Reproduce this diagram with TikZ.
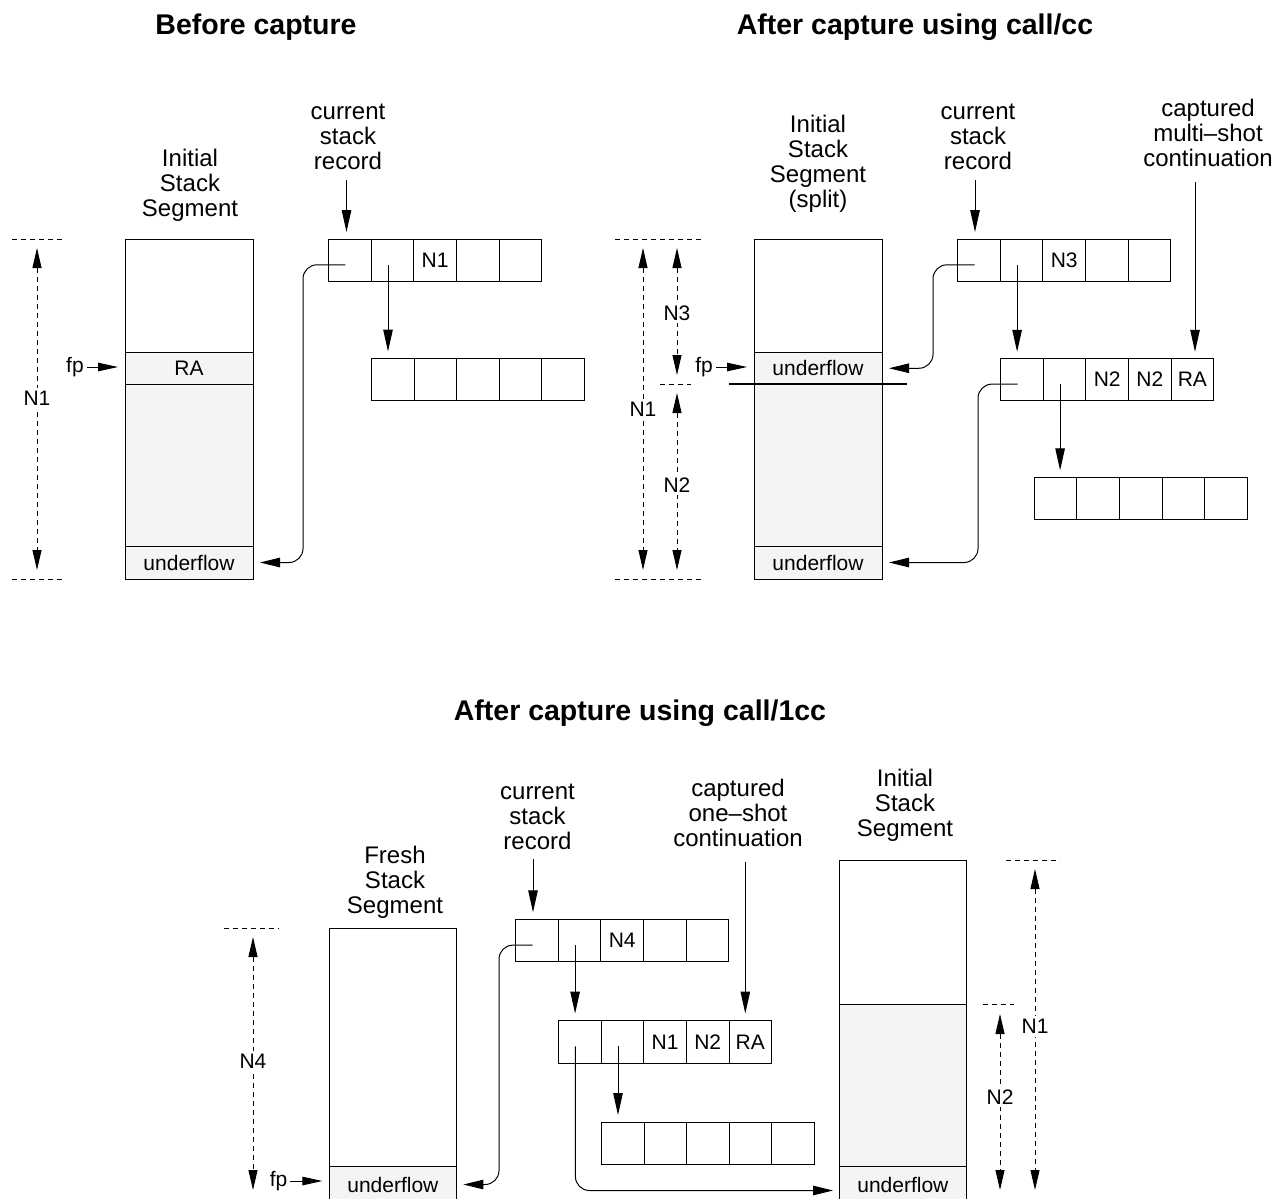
\documentclass[tikz,border=0pt]{standalone}
\usepackage{fontspec}
\setmainfont{Liberation Sans}
\usetikzlibrary{arrows.meta,calc}
\definecolor{segfill}{RGB}{244,244,244}
\tikzset{
  every node/.style={inner sep=0pt, outer sep=0pt},
  big/.style={font=\fontsize{24}{25}\selectfont, align=center, anchor=base},
  title/.style={font=\bfseries\fontsize{28.5}{30}\selectfont, anchor=base},
  small/.style={font=\fontsize{21}{23}\selectfont},
  cell/.style={draw, line width=1pt, minimum width=42.6pt, minimum height=42.6pt, small},
  band/.style={draw, line width=1pt, small},
  arr/.style={line width=1pt, -{Triangle[length=22pt,width=9.5pt]}},
  parr/.style={line width=1pt, -{Triangle[length=20pt,width=9.5pt]}, shorten >=7pt, rounded corners=14pt},
  fparr/.style={line width=1pt, -{Triangle[length=20pt,width=8.5pt]}, shorten >=7pt, shorten <=3pt},
  dim/.style={line width=0.9pt, dash pattern=on 5pt off 4pt, {Triangle[length=20pt,width=9pt]}-{Triangle[length=20pt,width=9pt]}},
  dline/.style={line width=0.9pt, dash pattern=on 5pt off 4pt},
  dimlab/.style={small, fill=white, inner sep=3pt},
}
\newcommand\stackrec[4]{%
  \foreach \lab [count=\i] in {#4} {
    \node[cell] (#1-\i) at ({#2+(\i-0.5)*42.6},{#3+21.3}) {\lab};
  }}
\newcommand\seg[7]{%
  \node[band, fill=#6, minimum width={#4-#2}, minimum height={#5-#3}] (#1) at ({(#2+#4)/2},{(#3+#5)/2}) {#7};}
\begin{document}
\begin{tikzpicture}[x=1pt, y=-1pt]
\useasboundingbox (0,0) rectangle (1277,1199);
\fill[white] (0,0) rectangle (1277,1199);

% ---------------- Before capture ----------------
\node[title] (t1) at (256,35) {Before capture};
\node[big] (l1) at (190,216) {Initial\\Stack\\Segment};
\node[big] (c1) at (348,169) {current\\stack\\record};

\seg{a0}{125}{239}{253}{352}{white}{}
\seg{aRA}{125}{352}{253}{384}{segfill}{RA}
\seg{amid}{125}{384}{253}{546}{segfill}{}
\seg{auf}{125}{546}{253}{579}{segfill}{underflow}

\stackrec{p}{328.6}{239}{{},{},N1,{},{}}
\stackrec{q}{371.4}{358}{{},{},{},{},{}}

\coordinate (ca1) at (346.5,180);
\draw[arr, shorten >=7pt] (ca1) -- (ca1 |- p-1.north);
\coordinate (ps1) at ([shift={(-4.5,4.5)}]p-1.center);
\coordinate (ps2) at ([shift={(-4.5,4.5)}]p-2.center);
\coordinate (kp) at (303,400);
\draw[parr] (ps1) -| (kp) |- (auf.east);
\draw[arr, shorten >=6.5pt] (ps2) -- (ps2 |- q-1.north);

\coordinate (d1a) at (12,239); \coordinate (d1b) at (65,239);
\coordinate (d1c) at (12,579); \coordinate (d1d) at (65,579);
\draw[dline] (d1a) -- (d1b);
\draw[dline] (d1c) -- (d1d);
\coordinate (n1t) at (37,248); \coordinate (n1b) at (37,570);
\draw[dim] (n1t) -- node[dimlab, pos=0.466] (n1l) {N1} (n1b);

\node[small] (fpa) at (75,367) {fp};
\draw[fparr] (fpa.east) -- (fpa.east -| aRA.west);

% ---------------- After capture using call/cc ----------------
\node[title] (t2) at (915,35) {After capture using call/cc};
\node[big] (l2) at (818,207.5) {Initial\\Stack\\Segment\\(split)};
\node[big] (c2) at (978,169) {current\\stack\\record};
\node[big] (m2) at (1208,166.5) {captured\\multi–shot\\continuation};

\seg{b0}{754}{239}{882}{352.5}{white}{}
\seg{buf1}{754}{352.5}{882}{384}{segfill}{underflow}
\seg{bmid}{754}{384}{882}{546}{segfill}{}
\seg{buf2}{754}{546}{882}{579}{segfill}{underflow}
\coordinate (spa) at (729,384); \coordinate (spb) at (907,384);
\draw[line width=2.6pt] (spa) -- (spb);

\stackrec{r}{957.7}{239}{{},{},N3,{},{}}
\stackrec{s}{1000.7}{358.3}{{},{},N2,N2,RA}
\stackrec{u}{1034.3}{477.3}{{},{},{},{},{}}

\coordinate (ca2) at (975,180);
\draw[arr, shorten >=7pt] (ca2) -- (ca2 |- r-1.north);
\coordinate (cm2) at (1195,182);
\draw[arr, shorten >=6.5pt] (cm2) -- (cm2 |- s-5.north);
\coordinate (rs1) at ([shift={(-4.5,4.5)}]r-1.center);
\coordinate (rs2) at ([shift={(-4.5,4.5)}]r-2.center);
\coordinate (ss1) at ([shift={(-4.5,4.5)}]s-1.center);
\coordinate (ss2) at ([shift={(-4.5,4.5)}]s-2.center);
\coordinate (kr) at (933,300);
\draw[parr] (rs1) -| (kr) |- (buf1.east);
\coordinate (ks) at (978,450);
\draw[parr] (ss1) -| (ks) |- (buf2.east);
\draw[arr, shorten >=6.5pt] (rs2) -- (rs2 |- s-1.north);
\draw[arr, shorten >=7pt] (ss2) -- (ss2 |- u-1.north);

\coordinate (d2a) at (615,239); \coordinate (d2b) at (703,239);
\coordinate (d2c) at (615,579); \coordinate (d2d) at (703,579);
\coordinate (d2e) at (660,384); \coordinate (d2f) at (691,384);
\draw[dline] (d2a) -- (d2b);
\draw[dline] (d2c) -- (d2d);
\draw[dline] (d2e) -- (d2f);
\coordinate (m1t) at (643,248); \coordinate (m1b) at (643,570);
\draw[dim] (m1t) -- node[dimlab, pos=0.5] (m1l) {N1} (m1b);
\coordinate (m3t) at (677,248); \coordinate (m3b) at (677,375);
\draw[dim] (m3t) -- node[dimlab, pos=0.51] (m3l) {N3} (m3b);
\coordinate (m2t) at (677,393); \coordinate (m2b) at (677,570);
\draw[dim] (m2t) -- node[dimlab, pos=0.52] (m2l) {N2} (m2b);

\node[small] (fpb) at (704,367) {fp};
\draw[fparr] (fpb.east) -- (fpb.east -| buf1.west);

% ---------------- After capture using call/1cc ----------------
\node[title] (t3) at (640,720) {After capture using call/1cc};
\node[big] (l3) at (395,913) {Fresh\\Stack\\Segment};
\node[big] (c3) at (537.5,849) {current\\stack\\record};
\node[big] (m3) at (738,846) {captured\\one–shot\\continuation};
\node[big] (l4) at (905,836) {Initial\\Stack\\Segment};

\seg{f0}{329.4}{928.3}{456.4}{1166}{white}{}
\seg{fuf}{329.4}{1166}{456.4}{1203}{segfill}{underflow}
\seg{g0}{839}{860}{966.7}{1004.3}{white}{}
\seg{gmid}{839}{1004.3}{966.7}{1166}{segfill}{}
\seg{guf}{839}{1166}{966.7}{1203}{segfill}{underflow}
\coordinate (gin) at (839,1190.5);

\stackrec{v}{515.7}{919.3}{{},{},N4,{},{}}
\stackrec{w}{558.6}{1020.5}{{},{},N1,N2,RA}
\stackrec{z}{601.4}{1122}{{},{},{},{},{}}

\coordinate (ca3) at (533,859);
\draw[arr, shorten >=7pt] (ca3) -- (ca3 |- v-1.north);
\coordinate (cm3) at (745.3,862);
\draw[arr, shorten >=7pt] (cm3) -- (cm3 |- w-5.north);
\coordinate (vs1) at ([shift={(-4.5,4.5)}]v-1.center);
\coordinate (vs2) at ([shift={(-4.5,4.5)}]v-2.center);
\coordinate (ws1) at ([shift={(-4.5,4.5)}]w-1.center);
\coordinate (ws2) at ([shift={(-4.5,4.5)}]w-2.center);
\coordinate (kv) at (499,1050);
\draw[parr] (vs1) -| (kv) |- (fuf.east);
\draw[parr, shorten >=6pt] (ws1) |- (gin);
\draw[arr, shorten >=7pt] (vs2) -- (vs2 |- w-1.north);
\draw[arr, shorten >=7pt] (ws2) -- (ws2 |- z-1.north);

\coordinate (d3a) at (224,928); \coordinate (d3b) at (279,928);
\draw[dline] (d3a) -- (d3b);
\coordinate (k4t) at (253,937); \coordinate (k4b) at (253,1190);
\draw[dim] (k4t) -- node[dimlab, pos=0.49] (k4l) {N4} (k4b);

\coordinate (d4a) at (1006,860); \coordinate (d4b) at (1060,860);
\coordinate (d4c) at (983,1004); \coordinate (d4d) at (1014,1004);
\draw[dline] (d4a) -- (d4b);
\draw[dline] (d4c) -- (d4d);
\coordinate (j1t) at (1035,869); \coordinate (j1b) at (1035,1190);
\draw[dim] (j1t) -- node[dimlab, pos=0.49] (j1l) {N1} (j1b);
\coordinate (j2t) at (1000,1014); \coordinate (j2b) at (1000,1190);
\draw[dim] (j2t) -- node[dimlab, pos=0.47] (j2l) {N2} (j2b);

\node[small] (fpc) at (278.6,1181) {fp};
\draw[fparr] (fpc.east) -- (fpc.east -| fuf.west);
\end{tikzpicture}
\end{document}
